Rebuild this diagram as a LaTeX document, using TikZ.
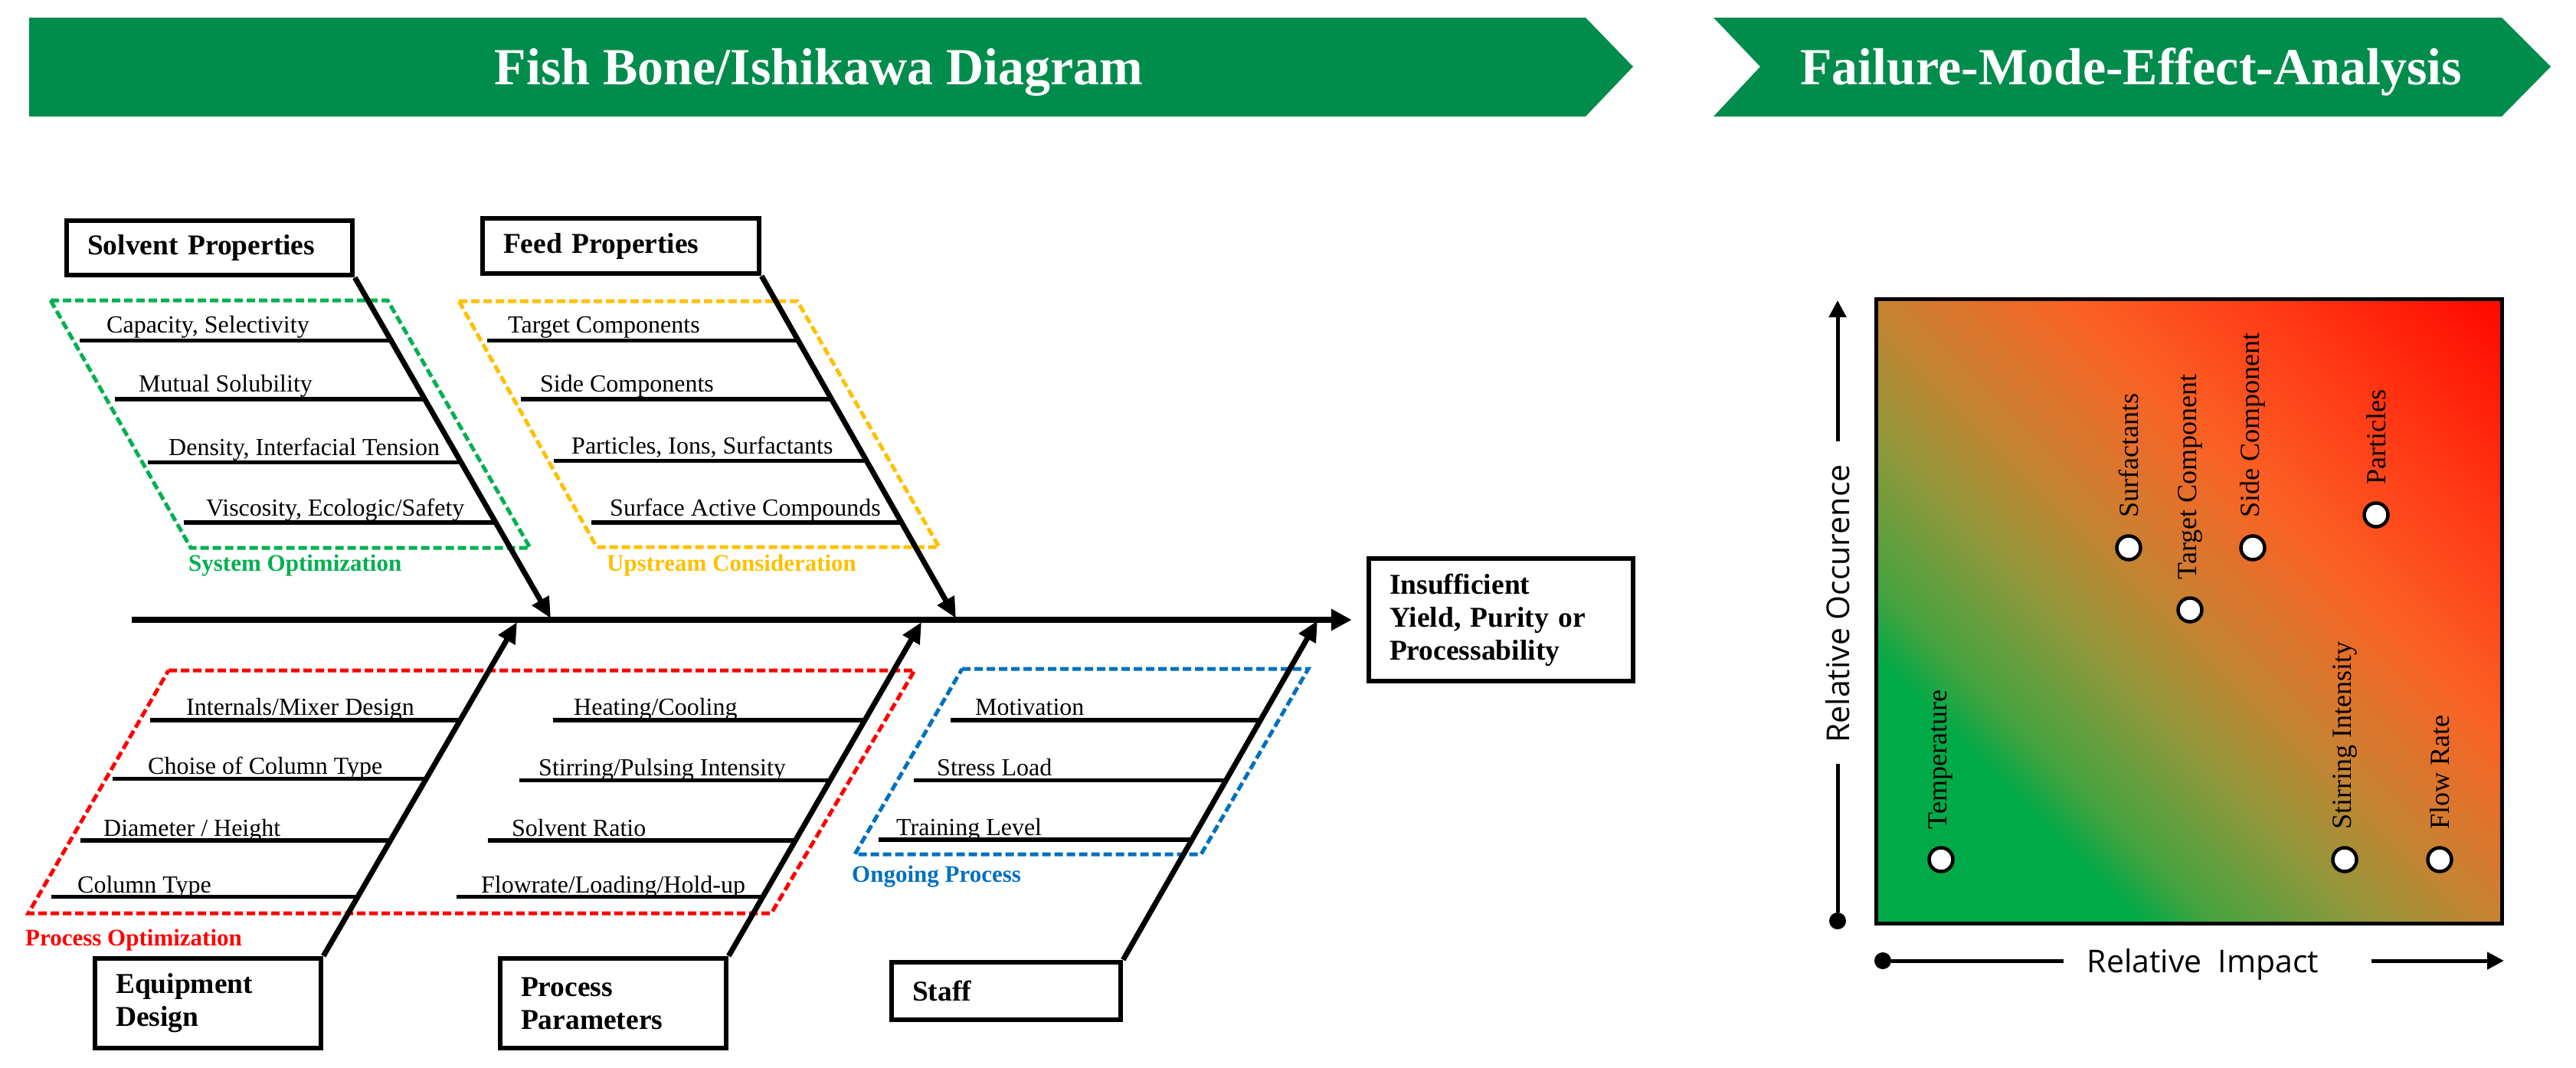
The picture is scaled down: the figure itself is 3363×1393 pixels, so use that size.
\documentclass[tikz,border=0pt]{standalone}
\usepackage{fontspec}
\setmainfont{Liberation Serif}
\newfontfamily\axfont{Open Sans}
\usetikzlibrary{arrows.meta,calc}

\definecolor{bannergreen}{RGB}{0,140,75}
\definecolor{optgreen}{RGB}{0,176,80}
\definecolor{upyellow}{RGB}{255,192,0}
\definecolor{procred}{RGB}{255,0,0}
\definecolor{ongblue}{RGB}{0,112,192}
\definecolor{sgA}{RGB}{0,170,72}
\definecolor{sgB}{RGB}{70,163,64}
\definecolor{sgC}{RGB}{150,150,58}
\definecolor{sgD}{RGB}{200,130,50}
\definecolor{sgE}{RGB}{250,98,36}
\definecolor{sgF}{RGB}{255,60,22}
\definecolor{sgG}{RGB}{255,8,0}

% t along diagonal -> bp = 14.64 + 70.71 t
\pgfdeclarehorizontalshading{fmea}{100bp}{color(0bp)=(sgA); color(29.5bp)=(sgA); color(33.7bp)=(sgB); color(42.9bp)=(sgC); color(50bp)=(sgD); color(60.6bp)=(sgE); color(71.2bp)=(sgF); color(85.36bp)=(sgG); color(100bp)=(sgG)}

\tikzset{
  catbox/.style={draw, line width=6.5pt, inner xsep=27pt, inner ysep=0pt, align=left,
    font=\fontsize{37.5}{43}\selectfont\bfseries},
  bone/.style={line width=7pt, -{Triangle[length=27pt,width=24pt]}},
  spine/.style={line width=8pt, -{Triangle[length=27pt,width=27pt]}},
  subline/.style={line width=5.5pt},
  sublab/.style={anchor=base west, inner sep=0pt, font=\fontsize{32}{36}\selectfont},
  grp/.style={dash pattern=on 11pt off 5pt, line width=5pt},
  grplab/.style={anchor=base west, inner sep=0pt, font=\fontsize{31}{36}\selectfont\bfseries},
  banner/.style={fill=bannergreen},
  bannertext/.style={anchor=base, text=white, inner sep=0pt, font=\fontsize{68}{72}\selectfont\bfseries},
  fmeapt/.style={circle, draw, fill=white, line width=4.5pt, minimum size=31pt, inner sep=0pt},
  ptlab/.style={rotate=90, anchor=west, inner sep=0pt, font=\fontsize{36}{40}\selectfont},
  axlab/.style={font=\axfont\fontsize{41}{45}\selectfont, inner sep=0pt},
  axline/.style={line width=5pt},
  axdot/.style={circle, fill=black, inner sep=0pt, minimum size=22pt},
}

\begin{document}
\begin{tikzpicture}[x=1pt,y=-1pt]
\fill[white] (0,0) rectangle (3363,1393);
\useasboundingbox (0,0) rectangle (3363,1393);

% ---------- banners ----------
\fill[banner] (38,23) -- (2070,23) -- (2132,87) -- (2070,152) -- (38,152) -- cycle;
\fill[banner] (2237,23) -- (3266,23) -- (3330,87) -- (3266,152) -- (2237,152) -- (2298,87) -- cycle;
\node[bannertext] (t1) at (1069,110) {Fish Bone/Ishikawa Diagram};
\node[bannertext] (t2) at (2782,110) {Failure-Mode-Effect-Analysis};

% ---------- dashed groups ----------
\draw[grp, optgreen] (66,392) -- (506,392) -- (692,715) -- (249,715) -- cycle;
\draw[grp, upyellow] (599,393) -- (1041,393) -- (1226,714) -- (779,714) -- cycle;
\draw[grp, procred] (220,875) -- (1194,875) -- (1007,1192) -- (37,1192) -- cycle;
\draw[grp, ongblue] (1256,873) -- (1708,873) -- (1568,1115) -- (1116,1115) -- cycle;

\node[grplab, text=optgreen] (g1) at (246,745) {System Optimization};
\node[grplab, text=upyellow] (g2) at (792,745) {Upstream Consideration};
\node[grplab, text=procred] (g3) at (33,1234) {Process Optimization};
\node[grplab, text=ongblue] (g4) at (1112,1151) {Ongoing Process};

% ---------- boxes ----------
\node[catbox, minimum height=71pt, text width=319pt] (solv) at (273.5,323.5) {Solvent Properties};
\node[catbox, minimum height=72pt, text width=307pt] (feed) at (810.5,321) {Feed Properties};
\node[catbox, minimum height=117pt, text width=241pt] (equip) at (271.5,1309.5) {Equipment\\Design};
\node[catbox, minimum height=117pt, text width=241pt] (proc) at (800.5,1309.5) {Process\\Parameters};
\node[catbox, minimum height=75pt, text width=245pt] (staff) at (1313.5,1293.5) {Staff};
\node[catbox, minimum height=160pt, text width=291pt] (effect) at (1959.5,809) {Insufficient\\Yield, Purity or\\Processability};

% ---------- bones ----------
\coordinate (tail) at (172,809);
\coordinate (solvtip) at (719,807);
\coordinate (feedtip) at (1248,807);
\coordinate (equiptip) at (675,812);
\coordinate (proctip) at (1203,812);
\coordinate (stafftip) at (1720,810);

% sub-lines (from the bone to the left)
\draw[subline] ($(solv.south east)!0.1853!(solvtip)$) -- ++(-407,0);
\draw[subline] ($(solv.south east)!0.3571!(solvtip)$) -- ++(-405,0);
\draw[subline] ($(solv.south east)!0.5424!(solvtip)$) -- ++(-409,0);
\draw[subline] ($(solv.south east)!0.7188!(solvtip)$) -- ++(-407,0);

\draw[subline] ($(feed.south east)!0.1889!(feedtip)$) -- ++(-406,0);
\draw[subline] ($(feed.south east)!0.36!(feedtip)$) -- ++(-406,0);
\draw[subline] ($(feed.south east)!0.54!(feedtip)$) -- ++(-408,0);
\draw[subline] ($(feed.south east)!0.72!(feedtip)$) -- ++(-405,0);

\draw[subline] ($(equip.north east)!0.7062!(equiptip)$) -- ++(-405,0);
\draw[subline] ($(equip.north east)!0.5308!(equiptip)$) -- ++(-409,0);
\draw[subline] ($(equip.north east)!0.3462!(equiptip)$) -- ++(-405,0);
\draw[subline] ($(equip.north east)!0.1777!(equiptip)$) -- ++(-400,0);

\draw[subline] ($(proc.north east)!0.7062!(proctip)$) -- ++(-407,0);
\draw[subline] ($(proc.north east)!0.5262!(proctip)$) -- ++(-406,0);
\draw[subline] ($(proc.north east)!0.3462!(proctip)$) -- ++(-401,0);
\draw[subline] ($(proc.north east)!0.1777!(proctip)$) -- ++(-400,0);

\draw[subline] ($(staff.north east)!0.7063!(stafftip)$) -- ++(-404,0);
\draw[subline] ($(staff.north east)!0.5291!(stafftip)$) -- ++(-408,0);
\draw[subline] ($(staff.north east)!0.3543!(stafftip)$) -- ++(-409,0);

% sub labels
\node[sublab] (s1) at (139,434) {Capacity, Selectivity};
\node[sublab] (s2) at (181,511) {Mutual Solubility};
\node[sublab] (s3) at (220,594) {Density, Interfacial Tension};
\node[sublab] (s4) at (269,673) {Viscosity, Ecologic/Safety};

\node[sublab] (f1) at (663,434) {Target Components};
\node[sublab] (f2) at (705,511) {Side Components};
\node[sublab] (f3) at (746,592) {Particles, Ions, Surfactants};
\node[sublab] (f4) at (796,673) {Surface Active Compounds};

\node[sublab] (e1) at (243,933) {Internals/Mixer Design};
\node[sublab] (e2) at (193,1010) {Choise of Column Type};
\node[sublab] (e3) at (135,1091) {Diameter / Height};
\node[sublab] (e4) at (101,1165) {Column Type};

\node[sublab] (p1) at (749,933) {Heating/Cooling};
\node[sublab] (p2) at (703,1012) {Stirring/Pulsing Intensity};
\node[sublab] (p3) at (668,1091) {Solvent Ratio};
\node[sublab] (p4) at (628,1165) {Flowrate/Loading/Hold-up};

\node[sublab] (m1) at (1273,933) {Motivation};
\node[sublab] (m2) at (1223,1012) {Stress Load};
\node[sublab] (m3) at (1170,1090) {Training Level};

% main bones and spine
\draw[bone] (solv.south east) -- (solvtip);
\draw[bone] (feed.south east) -- (feedtip);
\draw[bone] (equip.north east) -- (equiptip);
\draw[bone] (proc.north east) -- (proctip);
\draw[bone] (staff.north east) -- (stafftip);
\draw[spine, shorten >=19pt] (tail) -- (effect.west |- tail);

% ---------- FMEA ----------
\shade[shading=fmea, shading angle=45] (2449,390) rectangle (3266,1205);
\draw[line width=5pt] (2449,390) rectangle (3266,1205);

\node[fmeapt] (temp) at (2534,1122) {};
\node[fmeapt] (surf) at (2779,715) {};
\node[fmeapt] (targ) at (2859,796) {};
\node[fmeapt] (side) at (2941,715) {};
\node[fmeapt] (part) at (3102,672) {};
\node[fmeapt] (stir) at (3061,1122) {};
\node[fmeapt] (flow) at (3185,1122) {};

\node[ptlab] (templ) at ($(temp.north)+(0,-22)$) {Temperature};
\node[ptlab] (surfl) at ($(surf.north)+(0,-22)$) {Surfactants};
\node[ptlab] (targl) at ($(targ.north)+(0,-22)$) {Target Component};
\node[ptlab] (sidel) at ($(side.north)+(0,-22)$) {Side Component};
\node[ptlab] (partl) at ($(part.north)+(0,-22)$) {Particles};
\node[ptlab] (stirl) at ($(stir.north)+(0,-22)$) {Stirring Intensity};
\node[ptlab] (flowl) at ($(flow.north)+(0,-22)$) {Flow Rate};

% axes
\node[axdot] (ydot) at (2399,1202) {};
\coordinate (ytip) at (2399,392);
\node[axlab, rotate=90] (ylab) at (2399,788) {Relative Occurence};
\draw[axline, shorten >=27pt] (ydot) -- (ydot |- ylab.west);
\draw[axline, shorten <=30pt, -{Triangle[length=22pt,width=22pt]}] (ydot |- ylab.east) -- (ytip);

\node[axdot] (xdot) at (2458,1254) {};
\coordinate (xtip) at (3269,1254);
\node[axlab] (xlab) at (2876,1259) {Relative\ \ Impact};
\draw[axline, shorten >=30pt] (xdot) -- (xlab.west |- xdot);
\draw[axline, shorten <=68pt, -{Triangle[length=22pt,width=22pt]}] (xlab.east |- xdot) -- (xtip);
\end{tikzpicture}
\end{document}
